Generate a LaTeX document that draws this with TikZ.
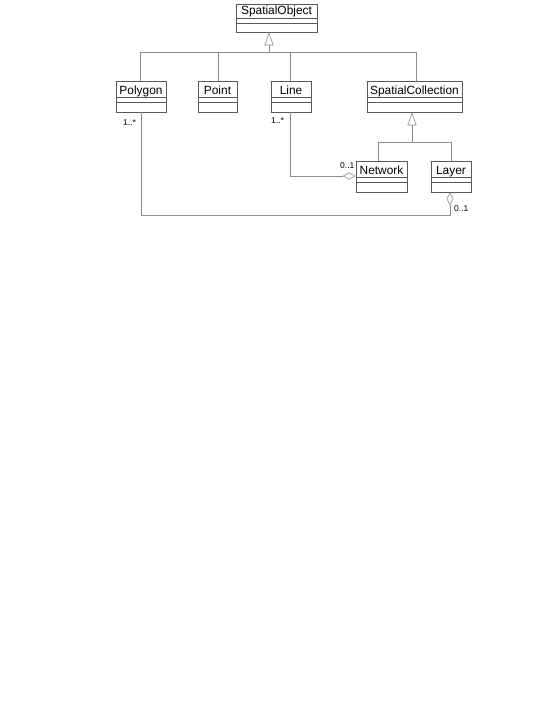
\documentclass[tikz,border=0pt]{standalone}
\usepackage{fontspec}
\setmainfont{Liberation Sans}
\usetikzlibrary{arrows.meta}
\tikzset{
  clsbox/.style={draw=black!65, line width=0.6pt, inner sep=0pt, fill=white},
  clsdiv/.style={draw=black!65, line width=0.6pt},
  clsname/.style={inner sep=0pt, anchor=base, font=\fontsize{11.9}{14}\selectfont},
  conn/.style={draw=black!45, line width=0.6pt},
  gen/.style={conn, -{Triangle[open, length=13pt, width=9pt, line width=0.6pt]}},
  agg/.style={conn, -{Diamond[open, length=13pt, width=7pt, line width=0.6pt]}},
  mult/.style={inner sep=0pt, anchor=base west, font=\fontsize{8.5}{10}\selectfont},
}
\newcommand{\umlcls}[7]{%
  \node[clsbox, minimum width={(#4-#2)*1pt}, minimum height={(#5-#3)*1pt}] (#1) at ({(#2+#4)/2},{(#3+#5)/2}) {};
  \draw[clsdiv] (#2,#3+#7) -- (#4,#3+#7);
  \draw[clsdiv] (#2,#3+#7+5) -- (#4,#3+#7+5);
  \node[clsname] (#1-t) at ({(#2+#4)/2},{#3+#7-3.2}) {#6};
}
\begin{document}
\begin{tikzpicture}[x=1pt, y=-1pt]
\useasboundingbox (0,0) rectangle (554,717);
% classes
\umlcls{so}{236}{4}{317}{32}{SpatialObject}{14}
\umlcls{poly}{116}{81}{166}{112}{Polygon}{16.5}
\umlcls{pt}{198}{81}{237}{112}{Point}{16.5}
\umlcls{ln}{271}{81}{311}{112}{Line}{16.5}
\umlcls{sc}{367}{81}{462}{112}{SpatialCollection}{16.5}
\umlcls{nw}{356}{161}{407}{192}{Network}{16.5}
\umlcls{ly}{431}{161}{471}{192}{Layer}{16.5}
% generalization to SpatialObject
\coordinate (g1) at (269,52);
\coordinate (j1) at (140,52);
\coordinate (j4) at (416,52);
\draw[gen] (g1) -- (g1 |- so.south);
\draw[conn] (poly.north -| j1) -- (j1) -- (j4) -- (j4 |- sc.north);
\draw[conn] (218,52) -- (pt.north -| 218,0);
\draw[conn] (290,52) -- (ln.north -| 290,0);
% generalization to SpatialCollection
\coordinate (g2) at (412,142);
\coordinate (j5) at (378,142);
\coordinate (j6) at (451,142);
\draw[gen] (g2) -- (g2 |- sc.south);
\draw[conn] (nw.north -| j5) -- (j5) -- (j6) -- (j6 |- ly.north);
% aggregation Line - Network
\coordinate (a1) at (290,176);
\draw[agg] (ln.south -| a1) -- (a1) -- (a1 -| nw.west);
% aggregation Polygon - Layer
\coordinate (a2) at (141,215);
\coordinate (a3) at (450,215);
\draw[agg] (poly.south -| a2) -- (a2) -- (a3) -- (a3 |- ly.south);
% multiplicities
\node[mult] (m1) at (123,125) {1..*};
\node[mult] (m2) at (271,123) {1..*};
\node[mult] (m3) at (340,168) {0..1};
\node[mult] (m4) at (454,211) {0..1};
\end{tikzpicture}
\end{document}
